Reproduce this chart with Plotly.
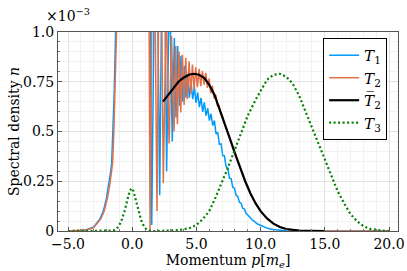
import plotly.graph_objects as go

# values in units of 1e-3
t1_x = [-5.0, -4.5, -4.0, -3.5, -3.0, -2.5, -2.25, -2.0, -1.8, -1.7, -1.6, -1.5, -1.4, -1.3, -1.2, -1.1,
        1.30, 1.52, 1.85, 2.14, 2.42, 2.68, 2.90, 3.12, 3.28,
        3.41, 3.54, 3.67, 3.80, 3.93, 4.06, 4.19, 4.32, 4.45, 4.58, 4.71, 4.84, 4.97, 5.10,
        5.23, 5.36, 5.49, 5.62, 5.75, 5.88, 6.01, 6.14, 6.27, 6.40, 6.53, 6.66, 6.79, 6.92,
        7.05, 7.18, 7.31, 7.44, 7.57, 7.70, 7.83, 7.96, 8.09, 8.22, 8.35, 8.48, 8.61, 8.74, 8.87,
        9.0, 9.4, 9.8, 10.2, 10.6, 11.0, 11.5, 12.0, 13.0, 20.0]
t1_y = [0.0, 0.001, 0.003, 0.008, 0.02, 0.062, 0.10, 0.165, 0.24, 0.29, 0.34, 0.5, 0.7, 0.98, 1.4, 2.0,
        2.0, 0.03, 2.0, 0.18, 2.0, 0.30, 1.3, 0.45, 0.97,
        0.57, 0.93, 0.63, 0.88, 0.65, 0.83, 0.67, 0.79, 0.67, 0.75, 0.663, 0.722, 0.644, 0.696,
        0.622, 0.669, 0.599, 0.646, 0.579, 0.617, 0.555, 0.589, 0.530, 0.555, 0.487, 0.496, 0.436, 0.438,
        0.379, 0.378, 0.323, 0.318, 0.266, 0.263, 0.220, 0.215, 0.180, 0.174, 0.145, 0.140, 0.114, 0.110, 0.089,
        0.08, 0.053, 0.034, 0.021, 0.012, 0.007, 0.003, 0.001, 0.0, 0.0]

t2_x = [-5.0, -4.5, -4.0, -3.5, -3.0, -2.43, -2.18, -1.93, -1.73, -1.63, -1.53, -1.43, -1.33, -1.23, -1.13, -1.03,
        1.25, 1.39, 1.65, 1.93, 2.17, 2.42, 2.65, 2.87, 3.06, 3.26,
        3.39, 3.52, 3.65, 3.78, 3.91, 4.04, 4.17, 4.30, 4.43, 4.56, 4.69, 4.82, 4.95, 5.08,
        5.21, 5.34, 5.47, 5.60, 5.73, 5.86, 5.99, 6.12, 6.25, 6.38, 6.51, 6.64, 6.77, 6.90,
        7.03, 7.16, 7.6, 8.0, 8.4, 8.8, 9.2, 9.6, 10.0, 10.5, 11.0, 11.5, 12.0, 12.5, 13.0, 14.0, 15.0, 20.0]
t2_y = [0.0, 0.001, 0.002, 0.006, 0.017, 0.062, 0.10, 0.165, 0.24, 0.29, 0.34, 0.5, 0.7, 0.98, 1.4, 2.0,
        2.0, 0.0, 2.0, 0.10, 2.0, 0.24, 1.15, 0.44, 0.98, 0.50,
        0.93, 0.537, 0.902, 0.596, 0.885, 0.633, 0.870, 0.662, 0.853, 0.689, 0.837, 0.71, 0.822, 0.723,
        0.815, 0.728, 0.803, 0.735, 0.795, 0.719, 0.766, 0.692, 0.730, 0.666, 0.684, 0.629, 0.63, 0.589,
        0.577, 0.545, 0.465, 0.39, 0.315, 0.25, 0.19, 0.14, 0.10, 0.063, 0.037, 0.02, 0.01, 0.005, 0.002, 0.0005, 0.0, 0.0]

t2bar_x = [2.4, 2.8, 3.2, 3.6, 4.0, 4.4, 4.8, 5.2, 5.6, 6.0, 6.4, 6.8, 7.2, 7.6, 8.0, 8.4, 8.8,
           9.2, 9.6, 10.0, 10.5, 11.0, 11.5, 12.0, 12.5, 13.0, 14.0, 15.0]
t2bar_y = [0.65, 0.685, 0.72, 0.75, 0.77, 0.785, 0.79, 0.785, 0.77, 0.735, 0.685, 0.615, 0.54, 0.465,
           0.39, 0.315, 0.25, 0.19, 0.14, 0.10, 0.063, 0.037, 0.02, 0.01, 0.005, 0.002, 0.0005, 0.0]

t3_x = [-5.0, -4.0, -3.0, -2.5, -2.0, -1.6, -1.4, -1.2, -1.0, -0.8, -0.6, -0.4, -0.2, -0.05, 0.1, 0.3,
        0.5, 0.7, 0.9, 1.1, 1.3, 1.5, 2.0, 3.0, 3.7, 4.5, 5.0, 5.5, 6.0, 6.5, 7.0, 7.4, 8.0, 8.5,
        9.0, 9.7, 10.5, 11.0, 11.5, 12.0, 12.5, 13.0, 13.5, 14.0, 14.5, 15.0, 15.5, 16.0, 16.5,
        17.0, 17.5, 18.0, 18.5, 19.0, 19.5, 20.0]
t3_y = [0.0, 0.0, 0.0, 0.0, 0.001, 0.002, 0.004, 0.012, 0.03, 0.06, 0.10, 0.15, 0.20, 0.215, 0.20, 0.15,
        0.10, 0.055, 0.025, 0.008, 0.002, 0.0, 0.0, 0.001, 0.005, 0.015, 0.03, 0.06, 0.10, 0.17, 0.245, 0.31,
        0.41, 0.50, 0.58, 0.67, 0.76, 0.785, 0.79, 0.775, 0.74, 0.68, 0.60, 0.52, 0.44, 0.36, 0.28, 0.20,
        0.14, 0.085, 0.05, 0.025, 0.011, 0.005, 0.002, 0.0]

x_tickvals = [-5, 0, 5, 10, 15, 20]
x_ticktext = ["\u22125.0", "0.0", "5.0", "10.0", "15.0", "20.0"]
y_tickvals = [0, 0.25, 0.5, 0.75, 1.0]
y_ticktext = ["0", "0.25", "0.5", "0.75", "1.0"]

FONT = "'DejaVu Serif', 'Liberation Serif', serif"

fig = go.Figure()
fig.add_trace(go.Scatter(x=t1_x, y=t1_y, mode="lines", name="<i>T</i><sub>1</sub>",
                         line=dict(color="#009AFA", width=1.5)))
fig.add_trace(go.Scatter(x=t2_x, y=t2_y, mode="lines", name="<i>T</i><sub>2</sub>",
                         line=dict(color="#E36F47", width=1.5)))
fig.add_trace(go.Scatter(x=t2bar_x, y=t2bar_y, mode="lines", name="<i>T\u0305</i><sub>2</sub>",
                         line=dict(color="black", width=2.2)))
fig.add_trace(go.Scatter(x=t3_x, y=t3_y, mode="lines", name="<i>T</i><sub>3</sub>",
                         line=dict(color="#008000", width=2.2, dash="2px,2.5px")))

axis_common = dict(
    showline=True, linecolor="#555", linewidth=1, mirror=True,
    showgrid=True, gridcolor="#e2e2e2", gridwidth=1,
    zeroline=False, ticks="inside", ticklen=4, tickcolor="#555",
    tickfont=dict(family=FONT, size=14, color="black"),
    automargin=False,
)
fig.update_xaxes(range=[-5.78, 20.7], tickvals=x_tickvals, ticktext=x_ticktext,
                 minor=dict(dtick=1, tick0=0, ticks="inside", ticklen=2, tickcolor="#777",
                            showgrid=True, gridcolor="#f2f2f2"),
                 title=dict(text="Momentum <i>p</i>[<i>m</i><sub><i>e</i></sub>]",
                            font=dict(family=FONT, size=14, color="black"), standoff=0),
                 **axis_common)
fig.update_yaxes(range=[0, 1], tickvals=y_tickvals, ticktext=y_ticktext,
                 minor=dict(dtick=0.05, tick0=0, ticks="inside", ticklen=2, tickcolor="#777",
                            showgrid=True, gridcolor="#f2f2f2"),
                 title=dict(text="Spectral density <i>n</i>",
                            font=dict(family=FONT, size=14, color="black"), standoff=0),
                 **axis_common)

fig.add_annotation(text="\u00d710<sup>\u22123</sup>", xref="paper", yref="paper",
                   x=-0.04, y=1.03, xanchor="left", yanchor="bottom", showarrow=False,
                   font=dict(family=FONT, size=14, color="black"))

fig.update_layout(
    width=407, height=271,
    margin=dict(l=58, r=9, t=32, b=40),
    paper_bgcolor="white", plot_bgcolor="white",
    showlegend=True,
    legend=dict(x=0.968, y=0.97, xanchor="right", yanchor="top",
                bgcolor="white", bordercolor="black", borderwidth=1,
                font=dict(family=FONT, size=15, color="black"),
                itemwidth=30, tracegroupgap=0),
)

fig.write_html("out.html", config={"displayModeBar": False},
               post_script="document.body.style.margin='0';document.body.style.overflow='hidden';")
